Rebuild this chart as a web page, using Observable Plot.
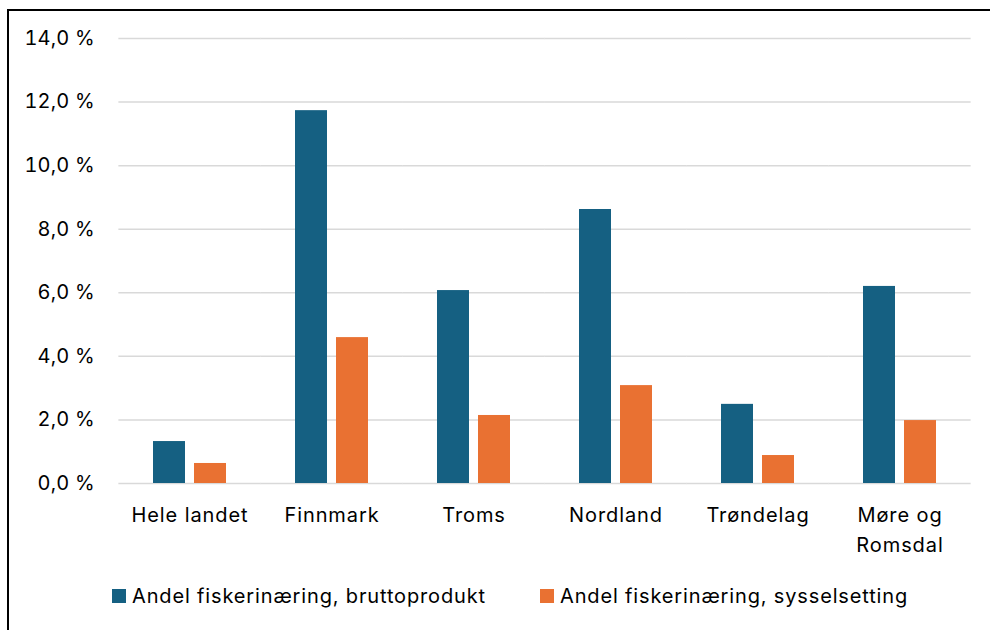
<!DOCTYPE html>
<html>
<head>
<meta charset="utf-8">
<script src="https://cdn.jsdelivr.net/npm/d3@7"></script>
<script src="https://cdn.jsdelivr.net/npm/@observablehq/plot@0.6"></script>
<style>
  html, body { margin: 0; padding: 0; width: 990px; height: 630px; overflow: hidden; background: #fff; }
  body { position: relative; font-family: Inter, sans-serif; }
  #frame { position: absolute; left: 7px; top: 9px; width: 1100px; height: 700px; border: 2px solid #000; box-sizing: border-box; }
  #chart { position: absolute; left: 0; top: 0; }
  #chart g[aria-label="fx-axis tick label"] { letter-spacing: 0.9px; }
  #chart g[aria-label="y-axis tick label"] { letter-spacing: 0.2px; }
  .legend { position: absolute; top: 584px; font-size: 20px; letter-spacing: 0.85px; color: #000; display: flex; align-items: center; white-space: nowrap; }
  .sw { width: 14px; height: 14px; display: inline-block; margin-right: 6px; }
</style>
</head>
<body>
<div id="frame"></div>
<div id="chart"></div>
<div class="legend" id="leg0" style="left:112px"></div>
<div class="legend" id="leg1" style="left:540px"></div>
<script>
const categories = ["Hele landet", "Finnmark", "Troms", "Nordland", "Trøndelag", "Møre og\nRomsdal"];
const series = ["Andel fiskerinæring, bruttoprodukt", "Andel fiskerinæring, sysselsetting"];
const bruttoprodukt = [1.32, 11.73, 6.07, 8.62, 2.49, 6.20];
const sysselsetting = [0.63, 4.59, 2.14, 3.08, 0.88, 1.98];
const yTicks = [0, 2, 4, 6, 8, 10, 12, 14];
const colors = ["#156082", "#E97132"];

const data = categories.flatMap((c, i) => [
  {cat: c, series: series[0], value: bruttoprodukt[i]},
  {cat: c, series: series[1], value: sysselsetting[i]}
]);

const W = 990, H = 560, mL = 118, mR = 19, mT = 38, mB = 77;
const pIn = 0.487, pOut = 0.2435;
const step = (W - mL - mR) / (categories.length - pIn + 2 * pOut);
const outer = step * pOut;

const fmt = d => d.toFixed(1).replace(".", ",") + " %";

const chart = Plot.plot({
  width: W, height: H,
  marginLeft: mL, marginRight: mR, marginTop: mT, marginBottom: mB,
  style: {fontFamily: "Inter, sans-serif", fontSize: "20px", color: "#000", background: "transparent"},
  fx: {domain: categories, paddingInner: pIn, paddingOuter: pOut, label: null, axis: null},
  x: {domain: series, paddingInner: 0.22, paddingOuter: 0, axis: null},
  y: {domain: [0, 14], label: null},
  color: {domain: series, range: colors},
  marks: [
    Plot.ruleY(yTicks, {stroke: "#d9d9d9", strokeWidth: 1.5, insetLeft: -outer, insetRight: -outer}),
    Plot.barY(data, {fx: "cat", x: "series", y: "value", fill: "series"}),
    Plot.axisY(yTicks, {tickSize: 0, tickPadding: 24 + outer, tickFormat: fmt, fontSize: 20, fill: "#000", label: null}),
    Plot.axisFx({anchor: "bottom", tickSize: 0, tickPadding: 17, fontSize: 20, lineHeight: 1.5, fill: "#000", label: null})
  ]
});
document.getElementById("chart").appendChild(chart);

series.forEach((s, i) => {
  const el = document.getElementById("leg" + i);
  const sw = document.createElement("span");
  sw.className = "sw";
  sw.style.background = colors[i];
  el.appendChild(sw);
  el.appendChild(document.createTextNode(s));
});
</script>
</body>
</html>
